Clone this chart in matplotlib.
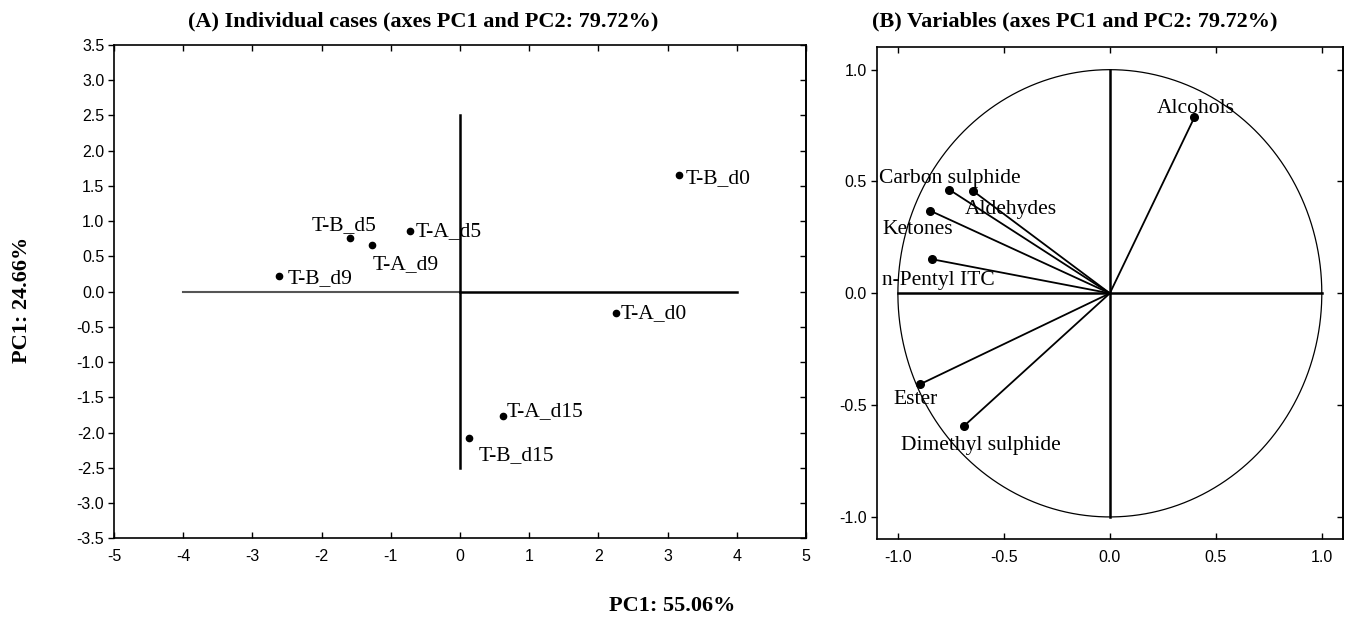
import numpy as np
import matplotlib
matplotlib.use("Agg")
import matplotlib.pyplot as plt

plt.rcParams['axes.unicode_minus'] = False

# (A) scores of individual cases on PC1 / PC2
cases = ['T-B_d0', 'T-A_d5', 'T-B_d5', 'T-A_d9', 'T-B_d9', 'T-A_d0', 'T-A_d15', 'T-B_d15']
case_pc1 = [3.17, -0.72, -1.585, -1.27, -2.61, 2.25, 0.62, 0.134]
case_pc2 = [1.655, 0.86, 0.757, 0.658, 0.218, -0.298, -1.759, -2.08]

# (B) variable loadings on PC1 / PC2
variables = ['Alcohols', 'Carbon sulphide', 'Aldehydes', 'Ketones',
             'n-Pentyl ITC', 'Ester', 'Dimethyl sulphide']
var_pc1 = [0.399, -0.757, -0.646, -0.847, -0.837, -0.894, -0.690]
var_pc2 = [0.787, 0.463, 0.458, 0.369, 0.152, -0.406, -0.595]

x_ticks_a = list(range(-5, 6))
y_ticks_a = [-3.5, -3.0, -2.5, -2.0, -1.5, -1.0, -0.5, 0.0, 0.5, 1.0, 1.5, 2.0, 2.5, 3.0, 3.5]
ticks_b = [-1.0, -0.5, 0.0, 0.5, 1.0]

# label offsets in pixels (left edge / baseline relative to the point)
case_offsets = {'T-B_d0': (6, -8), 'T-A_d5': (5, -5), 'T-B_d5': (-39, 8),
                'T-A_d9': (1, -24), 'T-B_d9': (8, -7), 'T-A_d0': (5, -5),
                'T-A_d15': (4, 0), 'T-B_d15': (9, -22)}
var_offsets = {'Alcohols': (-38, 4), 'Carbon sulphide': (-70, 7),
               'Aldehydes': (-8, -23), 'Ketones': (-48, -23),
               'n-Pentyl ITC': (-50, -26), 'Ester': (-27, -20),
               'Dimethyl sulphide': (-63, -24)}

serif = 'Liberation Serif'
sans = 'Liberation Sans'
label_fs = 15.5
tick_fs = 11.5

fig = plt.figure(figsize=(13.45, 6.23), dpi=100)
ax1 = fig.add_axes([114 / 1345, (623 - 538.3) / 623, 692 / 1345, 493.3 / 623])
ax2 = fig.add_axes([876.7 / 1345, (623 - 539.3) / 623, 466.3 / 1345, 492 / 623])


def style_axes(ax, xticks, yticks, xfmt, yfmt):
    ax.set_xticks(xticks)
    ax.set_yticks(yticks)
    ax.set_xticklabels([xfmt.format(v) for v in xticks], fontfamily=sans, fontsize=tick_fs)
    ax.set_yticklabels([yfmt.format(v) for v in yticks], fontfamily=sans, fontsize=tick_fs)
    ax.tick_params(axis='x', direction='in', top=True, length=4, width=1, pad=8)
    ax.tick_params(axis='y', direction='out', length=4, width=1, pad=3)
    # inward ticks on the right side
    sec = ax.secondary_yaxis('right')
    sec.set_yticks(yticks)
    sec.tick_params(direction='in', length=4, width=1, labelright=False)
    sec.spines['right'].set_linewidth(1.2)
    for s in ax.spines.values():
        s.set_linewidth(1.2)


# ---- (A) individual cases ----
ax1.set_xlim(-5, 5)
ax1.set_ylim(-3.5, 3.5)
ax1.plot([-4, 0], [0, 0], color='#555555', lw=1.5, zorder=1)
ax1.plot([0, 4], [0, 0], color='black', lw=1.8, zorder=1)
ax1.plot([0, 0], [-2.5, 2.5], color='black', lw=1.8, zorder=1)
ax1.plot(case_pc1, case_pc2, 'o', color='black', ms=4.5, zorder=3)
for name, x, y in zip(cases, case_pc1, case_pc2):
    ax1.annotate(name, (x, y), xytext=case_offsets[name], textcoords='offset pixels',
                 ha='left', va='baseline', fontfamily=serif, fontsize=label_fs, zorder=4)
style_axes(ax1, x_ticks_a, y_ticks_a, '{:d}', '{:.1f}')

# ---- (B) variables / correlation circle ----
ax2.set_xlim(-1.1, 1.1)
ax2.set_ylim(-1.1, 1.1)
theta = np.linspace(0, 2 * np.pi, 400)
ax2.plot(np.cos(theta), np.sin(theta), color='black', lw=0.9, zorder=1)
ax2.plot([-1, 1], [0, 0], color='black', lw=1.8, zorder=1)
ax2.plot([0, 0], [-1, 1], color='black', lw=1.8, zorder=1)
for x, y in zip(var_pc1, var_pc2):
    ax2.plot([0, x], [0, y], color='black', lw=1.3, zorder=2)
ax2.plot(var_pc1, var_pc2, 'o', color='black', ms=5.5, zorder=3)
for name, x, y in zip(variables, var_pc1, var_pc2):
    ax2.annotate(name, (x, y), xytext=var_offsets[name], textcoords='offset pixels',
                 ha='left', va='baseline', fontfamily=serif, fontsize=label_fs, zorder=4)
style_axes(ax2, ticks_b, ticks_b, '{:.1f}', '{:.1f}')

# titles and shared axis labels
title_kw = dict(fontfamily=serif, fontsize=16, fontweight='bold', ha='center', va='center')
fig.text(423 / 1345, 1 - 21 / 623, '(A) Individual cases (axes PC1 and PC2: 79.72%)', **title_kw)
fig.text(1075 / 1345, 1 - 21 / 623, '(B) Variables (axes PC1 and PC2: 79.72%)', **title_kw)
fig.text(672 / 1345, 1 - 606 / 623, 'PC1: 55.06%', **title_kw)
fig.text(22 / 1345, 1 - 300 / 623, 'PC1: 24.66%', rotation=90, **title_kw)

fig.savefig('out.png', dpi=100)
